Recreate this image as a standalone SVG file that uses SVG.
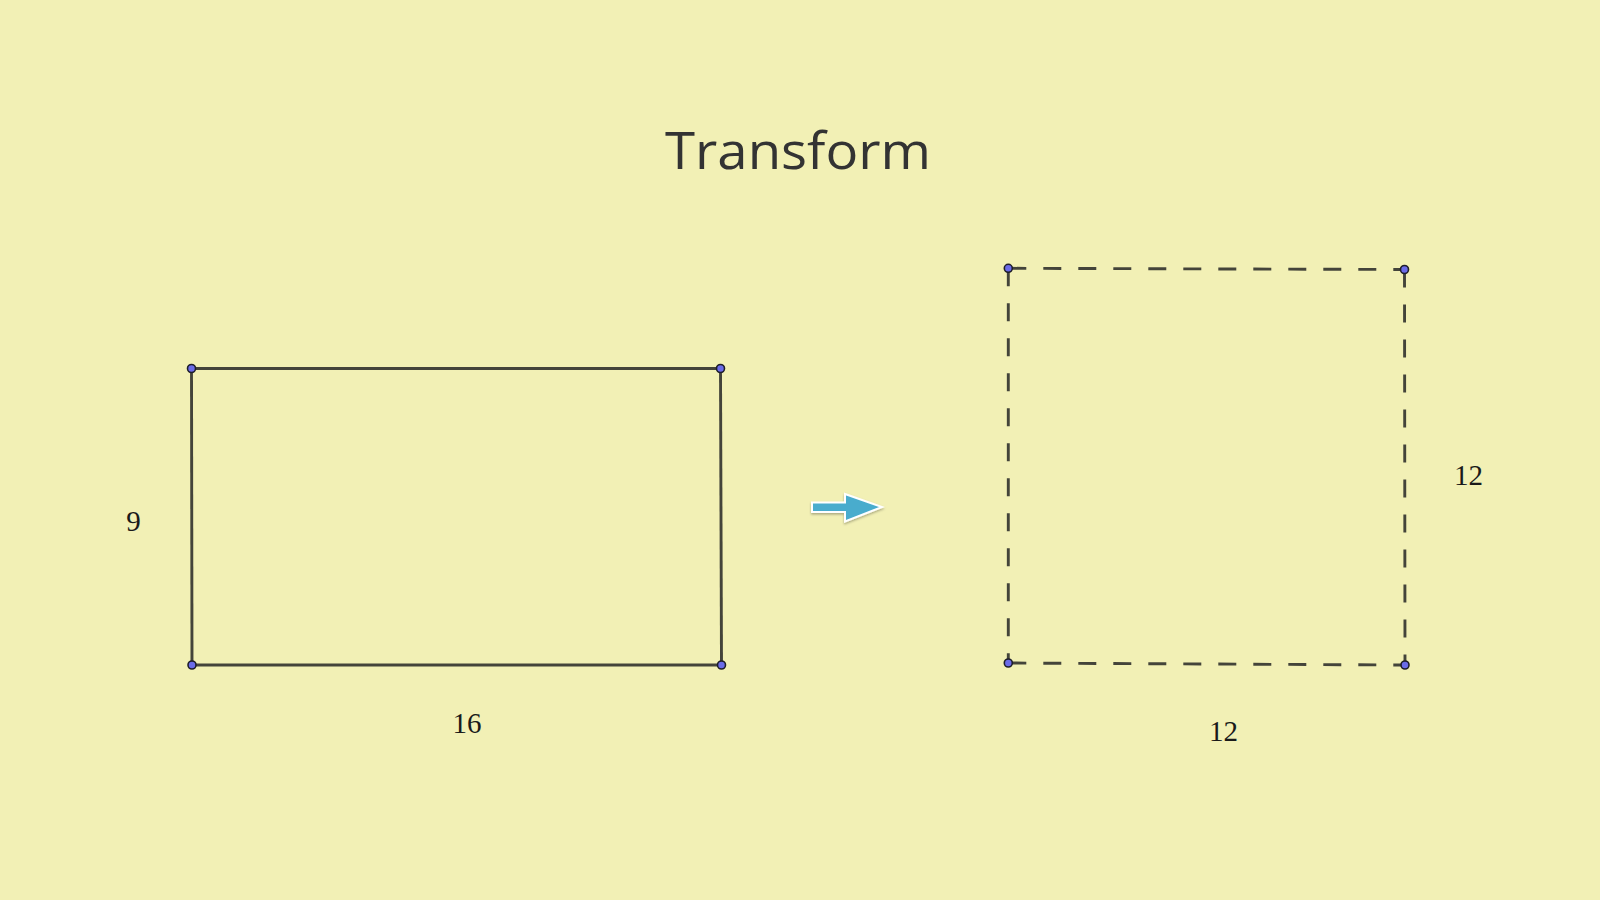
<svg xmlns="http://www.w3.org/2000/svg" width="1600" height="900" viewBox="0 0 1600 900">
<defs>
<style>
.edge{stroke:#44443a;stroke-width:2.9;fill:none;stroke-linecap:butt}
.dash{stroke-dasharray:18 17}
.pt{fill:#6b6be8;stroke:#1e1e2a;stroke-width:1.6}
.lbl{font-family:"Liberation Serif","DejaVu Serif",serif;font-size:29px;fill:#1a1a1a;text-anchor:middle}
.title{font-family:"Open Sans","Liberation Sans",sans-serif;font-size:52px;font-weight:500;fill:#333333;text-anchor:middle}
</style>
<filter id="sh" x="-20%" y="-20%" width="140%" height="160%">
<feDropShadow dx="0" dy="1.5" stdDeviation="1.2" flood-color="#000" flood-opacity="0.3"/>
</filter>
</defs>
<rect width="1600" height="900" fill="#f2f0b5"/>
<text class="title" x="798" y="169" textLength="266" lengthAdjust="spacingAndGlyphs">Transform</text>
<g id="connectors">
<g id="rect-left">
<line class="edge" x1="191.5" y1="368.5" x2="720.5" y2="368.5"/>
<line class="edge" x1="720.5" y1="368.5" x2="721.5" y2="665"/>
<line class="edge" x1="721.5" y1="665" x2="192" y2="665"/>
<line class="edge" x1="192" y1="665" x2="191.5" y2="368.5"/>
</g>
<g id="square-right">
<line class="edge dash" x1="1008.3" y1="268.3" x2="1404.5" y2="269.5"/>
<line class="edge dash" x1="1404.5" y1="269.5" x2="1405" y2="665"/>
<line class="edge dash" x1="1008.3" y1="663" x2="1405" y2="665"/>
<line class="edge dash" x1="1008.3" y1="268.3" x2="1008.3" y2="663"/>
</g>
<g id="arrow">
<polygon points="812,502.5 845,502.5 845,494 882,507 845,521.5 845,512 812,512" fill="#4aaccd" stroke="#ffffff" stroke-width="2" stroke-linejoin="miter" filter="url(#sh)"/>
</g>
</g>
<g id="node-left-points">
<circle class="pt" cx="191.5" cy="368.5" r="4"/>
<circle class="pt" cx="720.5" cy="368.5" r="4"/>
<circle class="pt" cx="192" cy="665" r="4"/>
<circle class="pt" cx="721.5" cy="665" r="4"/>
</g>
<g id="node-right-points">
<circle class="pt" cx="1008.3" cy="268.3" r="4"/>
<circle class="pt" cx="1404.5" cy="269.5" r="4"/>
<circle class="pt" cx="1008.3" cy="663" r="4"/>
<circle class="pt" cx="1405" cy="665" r="4"/>
</g>
<g id="labels">
<text class="lbl" x="133.5" y="531">9</text>
<text class="lbl" x="467" y="733">16</text>
<text class="lbl" x="1468.5" y="485">12</text>
<text class="lbl" x="1223.5" y="741">12</text>
</g>
</svg>
